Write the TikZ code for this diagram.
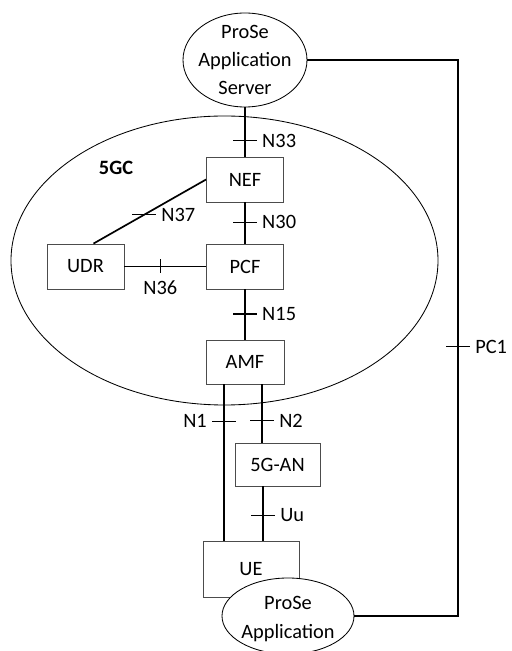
\documentclass[tikz,border=0pt]{standalone}
\usepackage{fontspec}
\setmainfont{Carlito}
\usetikzlibrary{shapes.geometric,calc}
\tikzset{
	nf/.style={draw=black!70, line width=0.6pt, fill=white, minimum width=1.925cm, minimum height=1.125cm, inner sep=0pt},
	ellip/.style={draw, ellipse, line width=0.6pt, fill=white, inner sep=0pt},
	link/.style={line width=1.2pt},
	tick/.style={line width=0.8pt},
}
\begin{document}
\begin{tikzpicture}[font=\fontsize{14.5pt}{20pt}\selectfont]
	\useasboundingbox (0 cm,0 cm) rectangle (12.775 cm,16.275 cm);
	% 5GC area
	\draw[line width=0.6pt] (5.6125 cm,9.7625 cm) ellipse (5.3375 cm and 3.6125 cm);
	\node[font=\fontsize{14.5pt}{20pt}\selectfont\bfseries] (core) at (2.9 cm,12.075 cm) {5GC};
	% network functions
	\node[ellip, minimum width=3.1cm, minimum height=2.35cm] (server) at (6.125 cm,14.775 cm) {};
	\node[align=center] (servertext) at (server) {ProSe\\Application\\Server};
	\node[nf] (NEF) at (6.125 cm,11.7875 cm) {NEF};
	\node[nf] (PCF) at (6.125 cm,9.6125 cm) {PCF};
	\node[nf] (UDR) at (2.1375 cm,9.6125 cm) {UDR};
	\node[nf, minimum width=1.95cm, minimum height=1.1cm] (AMF) at (6.125 cm,7.225 cm) {AMF};
	\node[nf, minimum width=2.125cm, minimum height=1.075cm] (AN) at (6.9375 cm,4.6625 cm) {5G-AN};
	\node[nf, minimum width=2.4cm, minimum height=1.4cm] (UE) at (6.275 cm,2.05 cm) {UE};
	\node[ellip, minimum width=3.3cm, minimum height=1.9cm] (app) at (7.2 cm,0.875 cm) {};
	\node[align=center] (apptext) at (7.2 cm,0.8 cm) {ProSe\\Application};
	\coordinate (corner) at (11.45 cm,0.875 cm);
	% reference points
	\draw[link] (server) -- (NEF) coordinate[pos=0.68] (t33);
	\draw[link] (NEF) -- (PCF) coordinate[pos=0.48] (t30);
	\draw[link] (PCF) -- (AMF) coordinate[pos=0.49] (t15);
	\draw[link] (NEF.west) -- ([xshift=0.2cm]UDR.north) coordinate[pos=0.55] (t37);
	\draw[link] (UDR) -- (PCF) coordinate[pos=0.44] (t36);
	\draw[link] ([xshift=-0.525cm]AMF.south) -- ([xshift=-0.525cm]AMF.south |- UE.north) coordinate[pos=0.236] (t1);
	\draw[link] ([xshift=0.425cm]AMF.south) -- ([xshift=0.425cm]AMF.south |- AN.north) coordinate[pos=0.627] (t2);
	\draw[link] ([xshift=-0.3625cm]AN.south) -- ([xshift=-0.3625cm]AN.south |- UE.north) coordinate[pos=0.53] (tu);
	\draw[link] (server.east) -| (corner) coordinate[pos=0.758] (tpc) -- (app.east);
	\foreach \t/\lbl in {t33/N33,t30/N30,t15/N15,t37/N37,t2/N2,tu/Uu,tpc/PC1}
		\draw[tick] ($(\t)+(-0.3cm,0)$) -- ($(\t)+(0.3cm,0)$) node[right] {\lbl};
	\draw[tick] ($(t1)+(-0.3cm,0)$) node[left] {N1} -- ($(t1)+(0.3cm,0)$);
	\draw[tick] ($(t36)+(0,0.175cm)$) -- ($(t36)+(0,-0.175cm)$) node[below, yshift=-0.05cm] {N36};
\end{tikzpicture}
\end{document}
